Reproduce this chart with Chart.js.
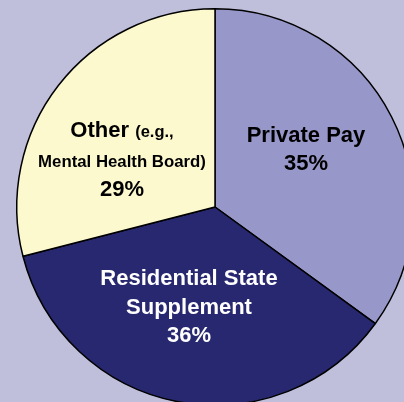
<!DOCTYPE html>
<html>
<head>
<meta charset="utf-8">
<script src="https://cdn.jsdelivr.net/npm/chart.js@4/dist/chart.umd.min.js"></script>
<style>
    html, body { margin: 0; padding: 0; width: 404px; height: 402px; overflow: hidden; background: #bfbfdc; }
    #wrap { position: relative; width: 404px; height: 402px; overflow: hidden; }
    #fundingChart { position: absolute; left: 0; top: 0; }
</style>
</head>
<body>
<div id="wrap">
    <canvas id="fundingChart" width="432" height="416"></canvas>
</div>
<script>
const categories = ['Private Pay', 'Residential State Supplement', 'Other (e.g., Mental Health Board)'];
const shares = [35, 36, 29];
const sliceColors = ['#9797c9', '#282870', '#fdf9cf'];

// label lines per slice, drawn by the plugin below
const labelLines = [
    [[{ text: 'Private Pay', size: 22 }], [{ text: '35%', size: 22 }]],
    [[{ text: 'Residential State', size: 22 }], [{ text: 'Supplement', size: 22 }], [{ text: '36%', size: 22 }]],
    [[{ text: 'Other ', size: 22 }, { text: '(e.g.,', size: 16.5 }], [{ text: 'Mental Health Board)', size: 16.8 }], [{ text: '29%', size: 22 }]]
];

const sliceLabels = {
    id: 'sliceLabels',
    afterDatasetsDraw(chart, args, opts) {
        const ctx = chart.ctx;
        const meta = chart.getDatasetMeta(0);
        meta.data.forEach((arc, i) => {
            const place = opts.places[i];
            const cx = arc.x + place.dx;
            ctx.save();
            ctx.fillStyle = place.color;
            ctx.textBaseline = 'alphabetic';
            ctx.textAlign = 'left';
            labelLines[i].forEach((line, j) => {
                let total = 0;
                line.forEach(part => {
                    ctx.font = 'bold ' + part.size + 'px "Liberation Sans", Arial, sans-serif';
                    total += ctx.measureText(part.text).width;
                });
                let x = cx - total / 2;
                const y = arc.y + place.dy + j * place.gap;
                line.forEach(part => {
                    ctx.font = 'bold ' + part.size + 'px "Liberation Sans", Arial, sans-serif';
                    ctx.fillText(part.text, x, y);
                    x += ctx.measureText(part.text).width;
                });
            });
            ctx.restore();
        });
    }
};

const ctx = document.getElementById('fundingChart').getContext('2d');
new Chart(ctx, {
    type: 'pie',
    data: {
        labels: categories,
        datasets: [{
            data: shares,
            backgroundColor: sliceColors,
            borderColor: '#000000',
            borderWidth: 1.5
        }]
    },
    options: {
        responsive: false,
        devicePixelRatio: 1,
        animation: false,
        layout: {
            padding: { left: 16, top: 8, right: 18, bottom: 10 }
        },
        plugins: {
            legend: { display: false },
            tooltip: { enabled: false },
            sliceLabels: {
                places: [
                    { dx: 91, dy: -65, gap: 28, color: '#000000' },
                    { dx: -26, dy: 78, gap: 28.5, color: '#ffffff' },
                    { dx: -93, dy: -70, gap: 29.5, color: '#000000' }
                ]
            }
        }
    },
    plugins: [sliceLabels]
});
</script>
</body>
</html>
